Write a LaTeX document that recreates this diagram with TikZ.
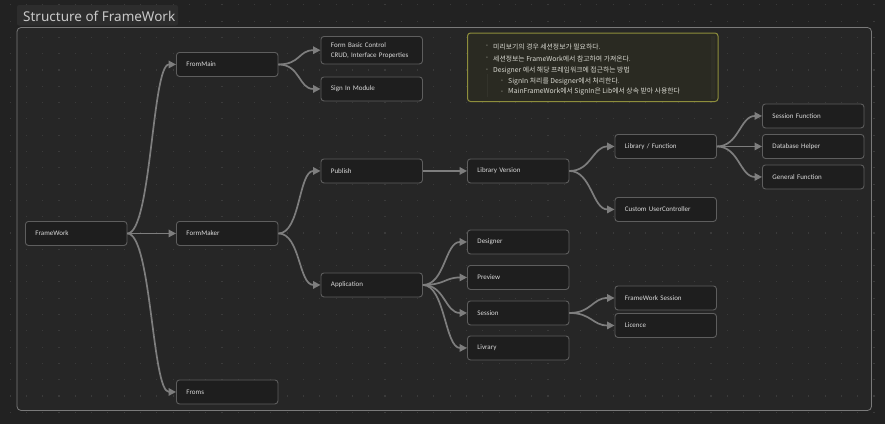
\documentclass[tikz,border=0pt]{standalone}
\usepackage{fontspec}
\setmainfont{Carlito}
\newfontfamily\titlefont{Noto Sans}
\newfontfamily\krfont{Noto Sans CJK KR}
\usetikzlibrary{arrows.meta}

\definecolor{canvasbg}{HTML}{222222}
\definecolor{groupfill}{HTML}{262626}
\definecolor{groupline}{HTML}{7A7A7A}
\definecolor{titlebg}{HTML}{2D2D2D}
\definecolor{titletext}{HTML}{C8C8C8}
\definecolor{dotc}{HTML}{3A3A3A}
\definecolor{boxfill}{HTML}{1E1E1E}
\definecolor{boxline}{HTML}{5E5E5E}
\definecolor{boxtext}{HTML}{DADADA}
\definecolor{linkc}{HTML}{7E7E7E}
\definecolor{notefill}{HTML}{2A2A22}
\definecolor{noteline}{HTML}{8E8E3C}
\definecolor{notetext}{HTML}{D8D8D0}
\definecolor{notebullet}{HTML}{8A8A80}
\definecolor{noteguide}{HTML}{33332B}
\definecolor{notescroll}{HTML}{2F2F27}

\begin{document}
\hyphenpenalty=10000
\begin{tikzpicture}[x=1pt,y=-1pt,
  box/.style={draw=boxline, fill=boxfill, rounded corners=3pt, line width=0.9pt,
    anchor=north west, text width=81.5pt, inner xsep=10pt, inner ysep=0pt,
    minimum height=24pt, align=left, font=\fontsize{7}{10}\selectfont, text=boxtext},
  link/.style={draw=linkc, line width=1.7pt, -{Triangle[length=7.5pt,width=7.5pt]}},
  noteline/.style={anchor=west, inner sep=0pt, text=notetext, font=\krfont\fontsize{6.85}{8}\selectfont},
  notedot/.style={anchor=center, inner sep=0pt, text=notebullet, font=\titlefont\fontsize{5}{6}\selectfont},
]
% canvas and dotted grid
\fill[canvasbg] (0,0) rectangle (885,424);
\useasboundingbox (0,0) rectangle (885,424);
\fill[groupfill, rounded corners=4pt] (17,27.5) rectangle (871.5,410.5);
\foreach \i in {0,...,54}
  \foreach \j in {0,...,26}
    \fill[dotc] ({10+\i*16.3-0.5},{4.7+\j*16.3-0.5}) rectangle ++(1.1,1.1);
\draw[groupline, rounded corners=4pt, line width=0.8pt] (17,27.5) rectangle (871.5,410.5);

% group title
\fill[titlebg, rounded corners=2pt] (17,5) rectangle (178,25.5);
\node[anchor=west, inner sep=0pt, text=titletext, font=\titlefont\fontsize{13.5}{15}\selectfont] (title) at (23,16) {Structure of FrameWork};

% nodes
\node[box] (framework) at (25,221)    {FrameWork};
\node[box] (frommain)  at (176,52)    {FromMain};
\node[box] (formmaker) at (176,221)   {FormMaker};
\node[box] (froms)     at (176,379.5) {Froms};
\node[box, minimum height=27.5pt] (basic) at (320.5,36) {Form Basic Control\\CRUD, Interface Properties};
\node[box] (signin)    at (320.5,76.5) {Sign In Module};
\node[box] (publish)   at (320.5,158.5) {Publish};
\node[box] (application) at (320.5,272.5) {Application};
\node[box] (libver)    at (467,158.5) {Library Version};
\node[box] (designer)  at (467,229.5) {Designer};
\node[box] (preview)   at (467,265) {Preview};
\node[box] (session)   at (467,300.5) {Session};
\node[box] (livrary)   at (467,335.5) {Livrary};
\node[box] (libfunc)   at (614.5,134) {Library / Function};
\node[box] (customuc)  at (614.5,197) {Custom UserController};
\node[box] (fwsession) at (614.5,285.5) {FrameWork Session};
\node[box] (licence)   at (614.5,313) {Licence};
\node[box] (sessfunc)  at (762,103.5) {Session Function};
\node[box] (dbhelper)  at (762,134) {Database Helper};
\node[box] (genfunc)   at (762,164.5) {General Function};

% note card
\draw[draw=noteline, fill=notefill, rounded corners=3pt, line width=1pt] (467.5,33) rectangle (718,101.5);
\fill[notescroll] (710.5,36) rectangle (714.5,98.5);
\draw[noteguide, line width=0.8pt] (487,74) -- (487,97);
\node[notedot] (b1) at (487,46.5) {•};
\node[noteline] (n1) at (493,46.5) {미리보기의 경우 세션정보가 필요하다.};
\node[notedot] (b2) at (487,58.5) {•};
\node[noteline] (n2) at (493,58.5) {세션정보는 FrameWork에서 참고하여 가져온다.};
\node[notedot] (b3) at (487,70.5) {•};
\node[noteline] (n3) at (493,70.5) {Designer 에서 해당 프레임워크에 접근하는 방법};
\node[notedot] (b4) at (502,81.5) {•};
\node[noteline] (n4) at (508,81.5) {SignIn 처리를 Designer에서 처리한다.};
\node[notedot] (b5) at (502,92) {•};
\node[noteline] (n5) at (508,92) {MainFrameWork에서 SignIn은 Lib에서 상속 받아 사용한다};

% connectors
\draw[link] (framework.east) .. controls +(24,0) and +(-24,0) .. (frommain.west);
\draw[link] (framework.east) .. controls +(24,0) and +(-24,0) .. (formmaker.west);
\draw[link] (framework.east) .. controls +(24,0) and +(-24,0) .. (froms.west);
\draw[link] (frommain.east) .. controls +(22,0) and +(-22,0) .. (basic.west);
\draw[link] (frommain.east) .. controls +(22,0) and +(-22,0) .. (signin.west);
\draw[link] (formmaker.east) .. controls +(22,0) and +(-22,0) .. (publish.west);
\draw[link] (formmaker.east) .. controls +(22,0) and +(-22,0) .. (application.west);
\draw[link] (publish.east) -- (libver.west);
\draw[link] (libver.east) .. controls +(22,0) and +(-22,0) .. (libfunc.west);
\draw[link] (libver.east) .. controls +(22,0) and +(-22,0) .. (customuc.west);
\draw[link] (libfunc.east) .. controls +(22,0) and +(-22,0) .. (sessfunc.west);
\draw[link] (libfunc.east) -- (dbhelper.west);
\draw[link] (libfunc.east) .. controls +(22,0) and +(-22,0) .. (genfunc.west);
\draw[link] (application.east) .. controls +(22,0) and +(-22,0) .. (designer.west);
\draw[link] (application.east) .. controls +(22,0) and +(-22,0) .. (preview.west);
\draw[link] (application.east) .. controls +(22,0) and +(-22,0) .. (session.west);
\draw[link] (application.east) .. controls +(22,0) and +(-22,0) .. (livrary.west);
\draw[link] (session.east) .. controls +(22,0) and +(-22,0) .. (fwsession.west);
\draw[link] (session.east) .. controls +(22,0) and +(-22,0) .. (licence.west);
\end{tikzpicture}
\end{document}
